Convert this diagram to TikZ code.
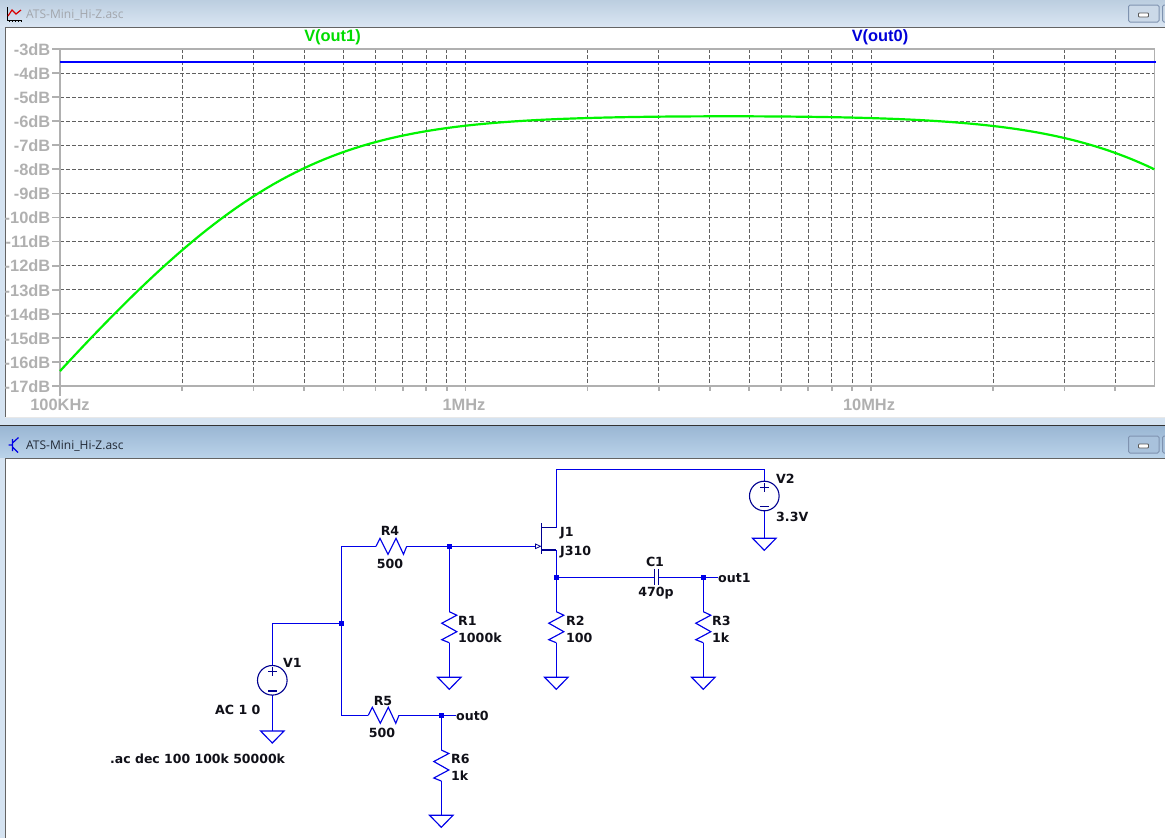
\documentclass[tikz,border=0pt]{standalone}
\usepackage{fontspec}
\setmainfont{Liberation Sans}
\newfontfamily\titlef{Open Sans}
\newfontfamily\schemf{DejaVu Sans}
\definecolor{chrome}{HTML}{D5E3F1}
\definecolor{frameg}{HTML}{646464}
\definecolor{axisg}{HTML}{B0B0B0}
\definecolor{gridg}{HTML}{606060}
\definecolor{wirec}{HTML}{0000E8}
\definecolor{symc}{HTML}{000090}
\definecolor{labelc}{HTML}{101018}
\definecolor{tracegreen}{HTML}{00F400}
\definecolor{btnb}{HTML}{7F93B0}
\definecolor{barAtop}{HTML}{BCCEE0}
\definecolor{barAbot}{HTML}{DAE6F3}
\definecolor{barBtop}{HTML}{9AB6D3}
\definecolor{barBbot}{HTML}{BAD2E9}
\definecolor{edgel}{HTML}{E8E8E8}
\definecolor{ttlA}{HTML}{A2A6AC}
\definecolor{ttlB}{HTML}{222A36}
\definecolor{btnA}{HTML}{CBD9E8}
\definecolor{btnB}{HTML}{A9C2DC}
\tikzset{
  wire/.style={draw=wirec,line width=1.15pt},
  sym/.style={draw=symc,line width=1.1pt},
  junc/.style={fill=wirec,draw=none,minimum size=4.6pt,inner sep=0pt,outer sep=0pt,rectangle},
  lab/.style={font=\schemf\bfseries\fontsize{12.6}{14}\selectfont,text=labelc,inner sep=0pt},
  ax/.style={font=\bfseries\fontsize{16.4}{18}\selectfont,text=axisg,inner sep=0pt},
  gridl/.style={draw=gridg,line width=.9pt,dash pattern=on 3.5pt off 2.5pt},
  axl/.style={draw=axisg,line width=1.8pt},
  ttl/.style={font=\titlef\fontsize{12}{14}\selectfont,inner sep=0pt,anchor=west},
  btn/.style={draw=btnb,line width=1pt,rounded corners=1.5pt},
  gndsym/.pic={\draw[wire] (-11.7,0) -- (11.7,0) -- (0,12) -- cycle;},
  vres/.pic={\draw[wire,line join=miter] (0,0) -- (7.5,3.5) -- (-7.5,11.5) -- (7.5,20) -- (-7.5,28) -- (0,31);},
  hres/.pic={\draw[wire,line join=miter] (0,0) -- (4,-8) -- (12,8) -- (20,-8) -- (27.5,8) -- (30.7,0);},
  vsrc/.pic={\draw[sym] (0,0) circle (14.8);
    \draw[sym] (-4.2,-8.7) -- (4.2,-8.7) (0,-13) -- (0,-4.5) (-4.5,10.7) -- (4.5,10.7);}
}
\begin{document}
\begin{tikzpicture}[x=1pt,y=-1pt]
\useasboundingbox (0,0) rectangle (1165,838);
% window chrome
\fill[chrome] (0,0) rectangle (1165,838);
\fill[top color=barAtop,bottom color=barAbot,draw=none] (0,0) rectangle (1165,27);
\fill[top color=barBtop,bottom color=barBbot] (0,425.5) rectangle (1165,457.5);
\fill[black!80] (0,424.5) rectangle (1165,426);
\fill[white] (5,27) rectangle (1165,417);
\fill[white] (5,458) rectangle (1165,838);
\draw[frameg,line width=1pt] (5,417) -- (5,27.5) -- (1165,27.5);
\draw[frameg,line width=1pt] (5,838) -- (5,458) -- (1165,458);
\draw[edgel,line width=1pt] (5,417) -- (1165,417);
\node[ttl,text=ttlA] (t1) at (26,15) {ATS-Mini\_Hi-Z.asc};
\node[ttl,text=ttlB] (t2) at (26,446) {ATS-Mini\_Hi-Z.asc};
% buttons
\foreach \yy/\cc in {5/btnA,436/btnB}{
  \draw[btn,fill=\cc] (1128.5,\yy) rectangle (1159,\yy+17);
  \draw[btn,fill=\cc] (1162.5,\yy) rectangle (1190,\yy+17);
  \draw[fill=white,draw=gray!70!black,line width=.8pt,rounded corners=.8pt] (1138.5,\yy+8) rectangle (1148.5,\yy+12);
}
% plot icon
\draw[black,line width=.8pt] (7,7) -- (7,20) -- (22,20);
\foreach \ix in {9,12,15,18,21}{\draw[black,line width=.8pt] (\ix,20) -- (\ix,22);}
\draw[red!85!black,line width=1.2pt] (8,16) -- (12,10) -- (16,14) -- (21,10);
% transistor icon
\draw[blue!90!black,line width=1.2pt] (8.5,445) -- (12.5,445) (12.5,439) -- (12.5,451) (12.5,443) -- (18.5,437.5) (12.5,447) -- (18,452.5);
% plot
\foreach \g in {0.301,0.477,0.602,0.699,0.778,0.845,0.903,0.954,1,1.301,1.477,1.602,1.699,1.778,1.845,1.903,1.954,2,2.301,2.477,2.602}{
  \draw[gridl] ({60+405.5*\g},49) -- ({60+405.5*\g},386);
  \draw[axl] ({60+405.5*\g},386) -- ({60+405.5*\g},391);
}
\foreach \k in {1,...,13}{
  \draw[gridl] (60,{49+24.07*\k}) -- (1154,{49+24.07*\k});
}
\foreach \k [evaluate=\k as \dbv using int(3+\k)] in {0,...,14}{
  \draw[axl] (52,{49+24.07*\k}) -- (60,{49+24.07*\k});
  \node[ax,anchor=east] at (50.5,{49.5+24.07*\k}) {-\dbv dB};
}
\draw[axl] (60,396) -- (60,49) -- (1154.5,49) -- (1154.5,386) -- (60,386);
\draw[draw=tracegreen,line width=2.2pt] plot[samples=150,domain=0:2.699] ({60+405.5*\x},{49+24.07*(-3+5.75+10*log10(1+(3.25/10^\x)^2)+10*log10(1+(10^\x/607)^2))});
\draw[draw=blue,line width=2pt] (60,62) -- (1155.5,62);
\node[ax,text=tracegreen!90!black] (tr1) at (332.5,37) {V(out1)};
\node[ax,text=blue!85!black] (tr0) at (880,37) {V(out0)};
\node[ax] (x0) at (60,404.5) {100KHz};
\node[ax] (x1) at (464,404.5) {1MHz};
\node[ax] (x2) at (869,404.5) {10MHz};
% junctions and terminals
\node[junc] (ntee) at (341.3,623.3) {};
\node[junc] (ngate) at (449.3,546.3) {};
\node[junc] (nsrc) at (556.3,577.3) {};
\node[junc] (nout1) at (703.3,577.3) {};
\node[junc] (nout0) at (441.3,715.3) {};
\coordinate (cv1) at (272.3,680.3);
\coordinate (cv2) at (764.3,496);
\coordinate (v1t) at (272.3,665.5);
\coordinate (v1b) at (272.3,695.1);
\coordinate (v2t) at (764.3,481.2);
\coordinate (v2b) at (764.3,510.8);
\coordinate (g1) at (272.3,731);
\coordinate (g2) at (764.3,538.3);
\coordinate (gr1) at (449.3,677.3);
\coordinate (gr2) at (556.3,677.3);
\coordinate (gr3) at (703.3,677.3);
\coordinate (gr6) at (441.3,815.3);
\coordinate (r1a) at (449.3,611.7);
\coordinate (r1b) at (449.3,642.7);
\coordinate (r2a) at (556.3,611.7);
\coordinate (r2b) at (556.3,642.7);
\coordinate (r3a) at (703.3,611.7);
\coordinate (r3b) at (703.3,642.7);
\coordinate (r6a) at (441.3,750);
\coordinate (r6b) at (441.3,781);
\coordinate (r4a) at (376,546.3);
\coordinate (r4b) at (406.7,546.3);
\coordinate (r5a) at (368.3,715.3);
\coordinate (r5b) at (399,715.3);
\coordinate (jd) at (556.3,527.7);
\coordinate (js) at (556.3,550);
\coordinate (jg) at (535,546.3);
\coordinate (c1a) at (654.7,577.3);
\coordinate (c1b) at (658.7,577.3);
\coordinate (o1) at (717.7,577.3);
\coordinate (o0) at (456,715.3);
\coordinate (vtop) at (764.3,469.3);
\coordinate (dtop) at (556.3,469.3);
% wires
\draw[wire] (v1t) |- (ntee);
\draw[wire] (ntee) |- (r4a);
\draw[wire] (ntee) |- (r5a);
\draw[wire] (r4b) -- (ngate) -- (jg);
\draw[wire] (ngate) -- (r1a);
\draw[wire] (r1b) -- (gr1);
\draw[wire] (r2b) -- (gr2);
\draw[wire] (r3b) -- (gr3);
\draw[wire] (r6b) -- (gr6);
\draw[wire] (v1b) -- (g1);
\draw[wire] (v2b) -- (g2);
\draw[wire] (jd) -- (dtop) -- (vtop) -- (v2t);
\draw[wire] (js) -- (nsrc) -- (r2a);
\draw[wire] (nsrc) -- (c1a);
\draw[wire] (c1b) -- (nout1) -- (o1);
\draw[wire] (nout1) -- (r3a);
\draw[wire] (r5b) -- (nout0) -- (o0);
\draw[wire] (nout0) -- (r6a);
% components
\pic at (r1a) {vres};
\pic at (r2a) {vres};
\pic at (r3a) {vres};
\pic at (r6a) {vres};
\pic at (r4a) {hres};
\pic at (r5a) {hres};
\pic at (g1) {gndsym};
\pic at (g2) {gndsym};
\pic at (gr1) {gndsym};
\pic at (gr2) {gndsym};
\pic at (gr3) {gndsym};
\pic at (gr6) {gndsym};
\pic at (cv1) {vsrc};
\pic at (cv2) {vsrc};
% capacitor
\draw[sym] (654.7,569) -- (654.7,585) (658.7,569) -- (658.7,585);
% JFET
\draw[sym] (541.7,523.3) -- (541.7,554.3);
\draw[sym] (541.7,527.7) -- (jd) (541.7,550) -- (js);
\draw[sym,fill=white,line width=.8pt] (535.5,544) -- (540.5,546.3) -- (535.5,548.6) -- cycle;
% labels
\node[lab] (lr4) at (390,530.5) {R4};
\node[lab] (vr4) at (390,563.5) {500};
\node[lab] (lr5) at (383,700.5) {R5};
\node[lab] (vr5) at (382,732.5) {500};
\node[lab,anchor=west] (lr1) at (458,620.5) {R1};
\node[lab,anchor=west] (vr1) at (458,637.5) {1000k};
\node[lab,anchor=west] (lr2) at (566,620.5) {R2};
\node[lab,anchor=west] (vr2) at (566,637.5) {100};
\node[lab,anchor=west] (lr3) at (712,620.5) {R3};
\node[lab,anchor=west] (vr3) at (712,637.5) {1k};
\node[lab,anchor=west] (lr6) at (451,759) {R6};
\node[lab,anchor=west] (vr6) at (451,776) {1k};
\node[lab,anchor=west] (lv1) at (283,662.5) {V1};
\node[lab,anchor=west] (vv1) at (215,709.5) {AC 1 0};
\node[lab,anchor=west,xscale=.99] (cmd) at (110,759) {.ac dec 100 100k 50000k};
\node[lab,anchor=west] (lj1) at (560,533) {J1};
\node[lab,anchor=west] (vj1) at (560,552.5) {J310};
\node[lab] (lc1) at (655,561.5) {C1};
\node[lab] (vc1) at (656,593) {470p};
\node[lab,anchor=west] (to1) at (718,578) {out1};
\node[lab,anchor=west] (to0) at (456,716) {out0};
\node[lab,anchor=west] (lv2) at (776,479) {V2};
\node[lab,anchor=west] (vv2) at (776,517) {3.3V};
\end{tikzpicture}
\end{document}
